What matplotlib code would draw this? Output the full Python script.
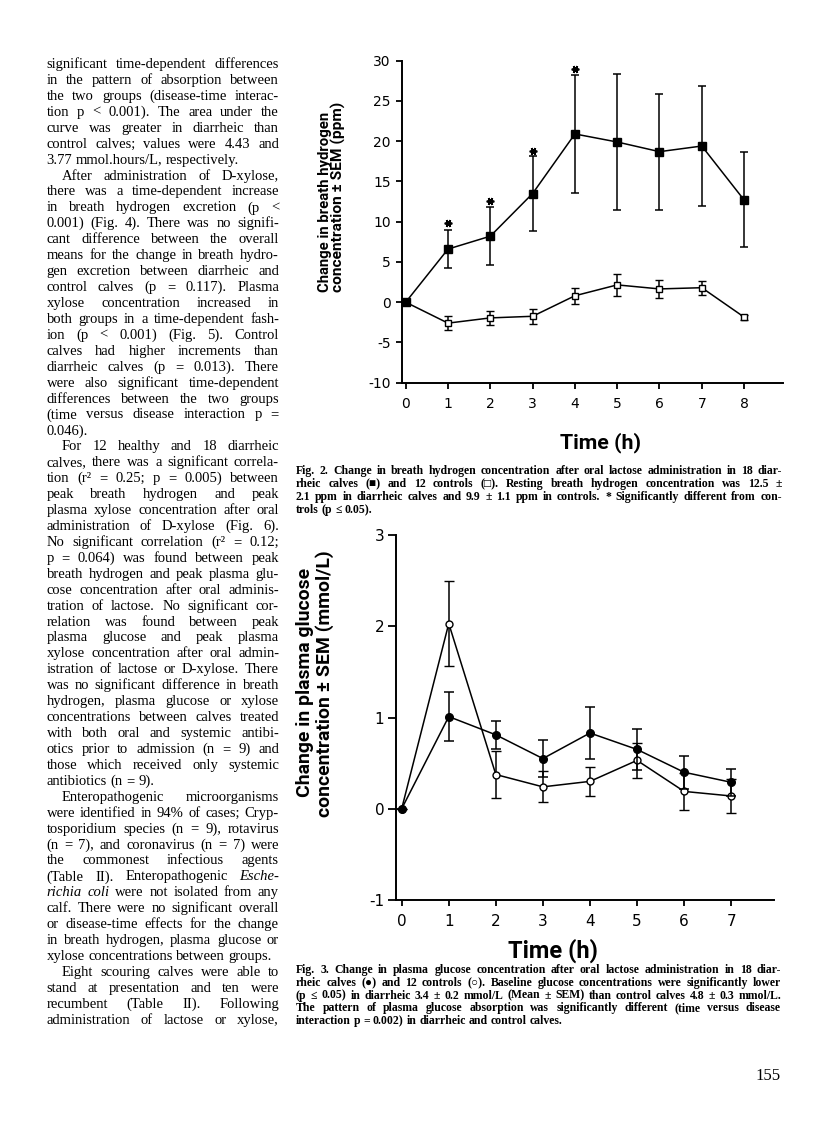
import matplotlib

matplotlib.use('Agg')
import matplotlib.pyplot as plt

plt.rcParams['axes.unicode_minus'] = False

W, H = 816, 1121
SERIF = ['Liberation Serif', 'DejaVu Serif', 'DejaVu Sans']
LABEL_FONT = ['Roboto', 'DejaVu Sans']

# Fig. 2 - breath hydrogen (ppm)
H2_TIME = [0, 1, 2, 3, 4, 5, 6, 7, 8]
H2_DIARRHEIC = [0, 6.6, 8.2, 13.5, 20.9, 19.9, 18.7, 19.4, 12.7]
H2_DIARRHEIC_SEM = [0, 2.4, 3.6, 4.6, 7.3, 8.5, 7.2, 7.4, 5.9]
H2_CONTROL = [0, -2.6, -1.95, -1.75, 0.8, 2.15, 1.65, 1.8, -1.85]
H2_CONTROL_SEM = [0, 0.9, 0.9, 0.95, 1.0, 1.35, 1.1, 0.85, 0.3]
H2_SIG_TIME = [1, 2, 3, 4]
H2_SIG_Y = [9.8, 12.6, 18.8, 29.0]

# Fig. 3 - plasma glucose (mmol/L)
GLU_TIME = [0, 1, 2, 3, 4, 5, 6, 7]
GLU_DIARRHEIC = [0, 1.01, 0.81, 0.55, 0.83, 0.65, 0.40, 0.29]
GLU_DIARRHEIC_SEM = [0, 0.27, 0.15, 0.20, 0.28, 0.22, 0.18, 0.15]
GLU_CONTROL = [0, 2.03, 0.375, 0.24, 0.30, 0.53, 0.19, 0.14]
GLU_CONTROL_SEM = [0, 0.47, 0.26, 0.17, 0.16, 0.19, 0.20, 0.19]

# left column text, one paragraph per list, line breaks as printed
# words starting with ~ are italic
BODY = [
    ['significant time-dependent differences',
     'in the pattern of absorption between',
     'the two groups (disease-time interac-',
     'tion p < 0.001). The area under the',
     'curve was greater in diarrheic than',
     'control calves; values were 4.43 and',
     '3.77 mmol.hours/L, respectively.'],
    ['After administration of D-xylose,',
     'there was a time-dependent increase',
     'in breath hydrogen excretion (p <',
     '0.001) (Fig. 4). There was no signifi-',
     'cant difference between the overall',
     'means for the change in breath hydro-',
     'gen excretion between diarrheic and',
     'control calves (p = 0.117). Plasma',
     'xylose concentration increased in',
     'both groups in a time-dependent fash-',
     'ion (p < 0.001) (Fig. 5). Control',
     'calves had higher increments than',
     'diarrheic calves (p = 0.013). There',
     'were also significant time-dependent',
     'differences between the two groups',
     '(time versus disease interaction p =',
     '0.046).'],
    ['For 12 healthy and 18 diarrheic',
     'calves, there was a significant correla-',
     'tion (r² = 0.25; p = 0.005) between',
     'peak breath hydrogen and peak',
     'plasma xylose concentration after oral',
     'administration of D-xylose (Fig. 6).',
     'No significant correlation (r² = 0.12;',
     'p = 0.064) was found between peak',
     'breath hydrogen and peak plasma glu-',
     'cose concentration after oral adminis-',
     'tration of lactose. No significant cor-',
     'relation was found between peak',
     'plasma glucose and peak plasma',
     'xylose concentration after oral admin-',
     'istration of lactose or D-xylose. There',
     'was no significant difference in breath',
     'hydrogen, plasma glucose or xylose',
     'concentrations between calves treated',
     'with both oral and systemic antibi-',
     'otics prior to admission (n = 9) and',
     'those which received only systemic',
     'antibiotics (n = 9).'],
    ['Enteropathogenic microorganisms',
     'were identified in 94% of cases; Cryp-',
     'tosporidium species (n = 9), rotavirus',
     '(n = 7), and coronavirus (n = 7) were',
     'the commonest infectious agents',
     '(Table II). Enteropathogenic ~Esche-',
     '~richia ~coli were not isolated from any',
     'calf. There were no significant overall',
     'or disease-time effects for the change',
     'in breath hydrogen, plasma glucose or',
     'xylose concentrations between groups.'],
    ['Eight scouring calves were able to',
     'stand at presentation and ten were',
     'recumbent (Table II). Following',
     'administration of lactose or xylose,'],
]

CAPTION_2 = [
    'Fig. 2. Change in breath hydrogen concentration after oral lactose administration in 18 diar-',
    'rheic calves (■) and 12 controls (□). Resting breath hydrogen concentration was 12.5 ±',
    '2.1 ppm in diarrheic calves and 9.9 ± 1.1 ppm in controls. * Significantly different from con-',
    'trols (p ≤ 0.05).',
]
CAPTION_3 = [
    'Fig. 3. Change in plasma glucose concentration after oral lactose administration in 18 diar-',
    'rheic calves (●) and 12 controls (○). Baseline glucose concentrations were significantly lower',
    '(p ≤ 0.05) in diarrheic 3.4 ± 0.2 mmol/L (Mean ± SEM) than control calves 4.8 ± 0.3 mmol/L.',
    'The pattern of plasma glucose absorption was significantly different (time versus disease',
    'interaction p = 0.002) in diarrheic and control calves.',
]

fig = plt.figure(figsize=(W / 100, H / 100), dpi=100)
fig.patch.set_facecolor('white')
renderer = fig.canvas.get_renderer()


def px_axes(left, top, right, bottom):
    return fig.add_axes([left / W, 1 - bottom / H, (right - left) / W, (bottom - top) / H])


def fit(t, target, vertical=False):
    # rescale font so the text spans target pixels
    for _ in range(3):
        bb = t.get_window_extent(renderer)
        size = bb.height if vertical else bb.width
        t.set_fontsize(t.get_fontsize() * target / size)


def paragraph(lines, x0, x1, y, step, size, weight='normal', indent=0, last_free=True):
    # lays words out one by one so each line is justified like the print
    space = 0.25 * size * 100 / 72
    for i, line in enumerate(lines):
        ts = []
        for w in line.split():
            style = 'italic' if w.startswith('~') else 'normal'
            ts.append(fig.text(0, 1 - y / H, w.lstrip('~'), fontsize=size, weight=weight,
                               style=style, family=SERIF, va='baseline', ha='left'))
        widths = [t.get_window_extent(renderer).width for t in ts]
        start = x0 + (indent if i == 0 else 0)
        room = x1 - start - 2.5 * (len(ts) - 1)
        if sum(widths) > room:
            k = room / sum(widths)
            for t in ts:
                t.set_fontsize(size * k)
            widths = [t.get_window_extent(renderer).width for t in ts]
        if len(ts) > 1 and not (last_free and i == len(lines) - 1):
            gap = (x1 - start - sum(widths)) / (len(ts) - 1)
        else:
            gap = space
        x = start
        for t, w in zip(ts, widths):
            t.set_x(x / W)
            x += w + gap
        y += step
    return y


def style_axes(ax, size, ylen, ypad, xpad):
    for s in ['top', 'right']:
        ax.spines[s].set_visible(False)
    for s in ['left', 'bottom']:
        ax.spines[s].set_linewidth(1.4)
    ax.tick_params(axis='both', direction='out', width=1.3, labelsize=size, colors='black')
    ax.tick_params(axis='y', length=ylen, pad=ypad)
    ax.tick_params(axis='x', length=4, pad=xpad)
    ax.set_facecolor('none')


# ---- Fig. 2 ----
ax1 = px_axes(401.7, 60.7, 783, 382.7)
ax1.set_xlim(-0.095, 8.92)
ax1.set_ylim(-10, 30)
ax1.set_yticks(range(-10, 31, 5))
ax1.set_xticks(H2_TIME)
style_axes(ax1, 10, 4.5, 3.5, 6.5)

ax1.errorbar(H2_TIME, H2_CONTROL, yerr=H2_CONTROL_SEM, fmt='-s', color='black', lw=1.1,
             elinewidth=1.1, capsize=3, capthick=1.1, ms=5, mfc='white', mec='black', mew=1.0,
             zorder=3, clip_on=False)
ax1.errorbar(H2_TIME, H2_DIARRHEIC, yerr=H2_DIARRHEIC_SEM, fmt='-s', color='black', lw=1.1,
             elinewidth=1.1, capsize=3, capthick=1.1, ms=5.5, mfc='black', mec='black',
             zorder=4, clip_on=False)
ax1.plot(H2_SIG_TIME, H2_SIG_Y, ls='none', marker=(6, 2, 90), ms=5.5, mew=1.3, color='black',
         clip_on=False)

t = fig.text(325.5 / W, 1 - 292 / H, 'Change in breath hydrogen', rotation=90, ha='center',
             va='bottom', weight='bold', family=LABEL_FONT, fontsize=10)
fit(t, 180, vertical=True)
t = fig.text(338.5 / W, 1 - 292 / H, 'concentration ± SEM (ppm)', rotation=90, ha='center',
             va='bottom', weight='bold', family=LABEL_FONT, fontsize=10)
fit(t, 189, vertical=True)
t = fig.text(600 / W, 1 - 443 / H, 'Time (h)', ha='center', va='center', weight='bold',
             family=LABEL_FONT, fontsize=12)
fit(t, 81)

paragraph(CAPTION_2, 296, 782, 474, 13, 8.5, weight='bold')

# ---- Fig. 3 ----
ax2 = px_axes(396, 535, 774, 900)
ax2.set_xlim(-0.121, 7.91)
ax2.set_ylim(-1, 3)
ax2.set_yticks(range(-1, 4))
ax2.set_xticks(GLU_TIME)
style_axes(ax2, 11, 5.5, 3, 6)

ax2.errorbar(GLU_TIME, GLU_CONTROL, yerr=GLU_CONTROL_SEM, fmt='-o', color='black', lw=1.1,
             elinewidth=1.1, capsize=3.6, capthick=1.1, ms=5, mfc='white', mec='black', mew=1.0,
             zorder=3)
ax2.errorbar(GLU_TIME, GLU_DIARRHEIC, yerr=GLU_DIARRHEIC_SEM, fmt='-o', color='black', lw=1.1,
             elinewidth=1.1, capsize=3.6, capthick=1.1, ms=5.5, mfc='black', mec='black',
             zorder=4)

t = fig.text(305.5 / W, 1 - 797 / H, 'Change in plasma glucose', rotation=90, ha='center',
             va='bottom', weight='bold', family=LABEL_FONT, fontsize=12)
fit(t, 229, vertical=True)
t = fig.text(324.5 / W, 1 - 817 / H, 'concentration ± SEM (mmol/L)', rotation=90, ha='center',
             va='bottom', weight='bold', family=LABEL_FONT, fontsize=12)
fit(t, 267, vertical=True)
t = fig.text(553 / W, 1 - 951 / H, 'Time (h)', ha='center', va='center', weight='bold',
             family=LABEL_FONT, fontsize=13)
fit(t, 90)

paragraph(CAPTION_3, 296, 781, 973, 12.8, 8.5, weight='bold')

# ---- left column ----
y = 68
for k, par in enumerate(BODY):
    y = paragraph(par, 46.5, 279, y, 15.93, 10.5, indent=0 if k == 0 else 15,
                  last_free=(k != len(BODY) - 1))

fig.text(780.7 / W, 1 - 1080 / H, '155', ha='right', va='baseline', fontsize=12, family=SERIF)

fig.savefig('out.png', dpi=100)
